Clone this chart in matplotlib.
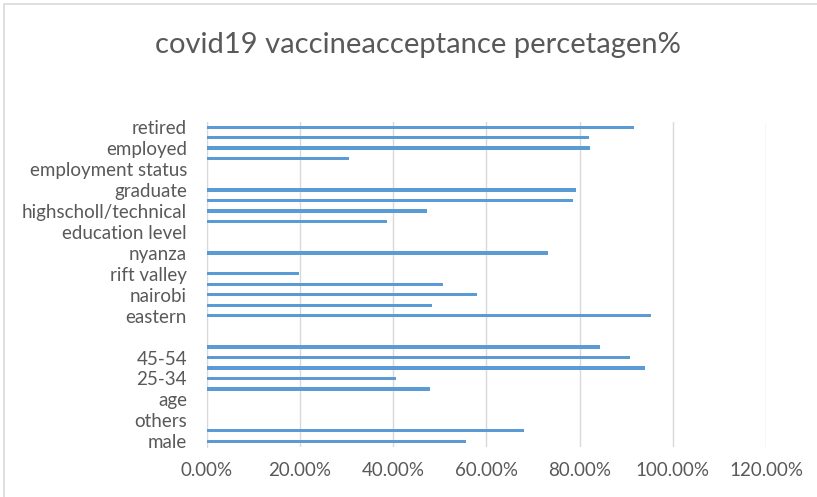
import matplotlib.pyplot as plt
import matplotlib.patches as patches
from matplotlib.ticker import PercentFormatter
import numpy as np

# categories from bottom to top; Excel only labels every other row
categories = ['male', '', 'others', '', 'age', '', '25-34', '', '45-54', '',
              '', '', 'eastern', '', 'nairobi', '', 'rift valley', '', 'nyanza', '',
              'education level', '', 'highscholl/technical', '', 'graduate', '',
              'employment status', '', 'employed', '', 'retired']

# acceptance in percent (nan = no bar / group heading)
acceptance = [55.6, 68.1, np.nan, np.nan, np.nan, 47.9, 40.6, 94.0, 90.9, 84.4,
              np.nan, np.nan, 95.4, 48.4, 58.0, 50.8, 19.9, np.nan, 73.3, np.nan,
              np.nan, 38.8, 47.2, 78.7, 79.2, np.nan,
              np.nan, 30.5, 82.3, 82.0, 91.6]

plt.rcParams['font.family'] = ['Lato', 'DejaVu Sans']

fig = plt.figure(figsize=(8.17, 4.97), dpi=100)
ax = fig.add_axes([206.5 / 817, 1 - 446.5 / 497, (766 - 206.5) / 817, (446.5 - 122) / 497])

y = np.arange(len(categories))
ax.barh(y, acceptance, height=0.32, color='#5B9BD5', zorder=3)

ax.set_xlim(0, 120)
ax.set_ylim(-0.5, len(categories) - 0.5)
ax.set_xticks(np.arange(0, 121, 20))
ax.xaxis.set_major_formatter(PercentFormatter(decimals=2))
ax.set_yticks(y[::2], categories[::2])

ax.grid(axis='x', color='#D9D9D9', linewidth=1, zorder=0)
for side in ['top', 'right', 'bottom']:
    ax.spines[side].set_visible(False)
ax.spines['left'].set_color('#D9D9D9')
ax.tick_params(axis='both', length=0, colors='#595959', labelsize=13.5)
ax.tick_params(axis='y', pad=14)
ax.tick_params(axis='x', pad=11)

fig.text(418 / 817, 1 - 45 / 497, 'covid19 vaccineacceptance percetagen%',
         ha='center', va='center', fontsize=21, color='#595959')

# chart area border
fig.patches.append(patches.Rectangle((4 / 817, -0.1), 1.1, 1 - 4 / 497 + 0.1,
                                     transform=fig.transFigure, fill=False,
                                     edgecolor='#D9D9D9', linewidth=1.2))

fig.savefig('out.png', dpi=100)
